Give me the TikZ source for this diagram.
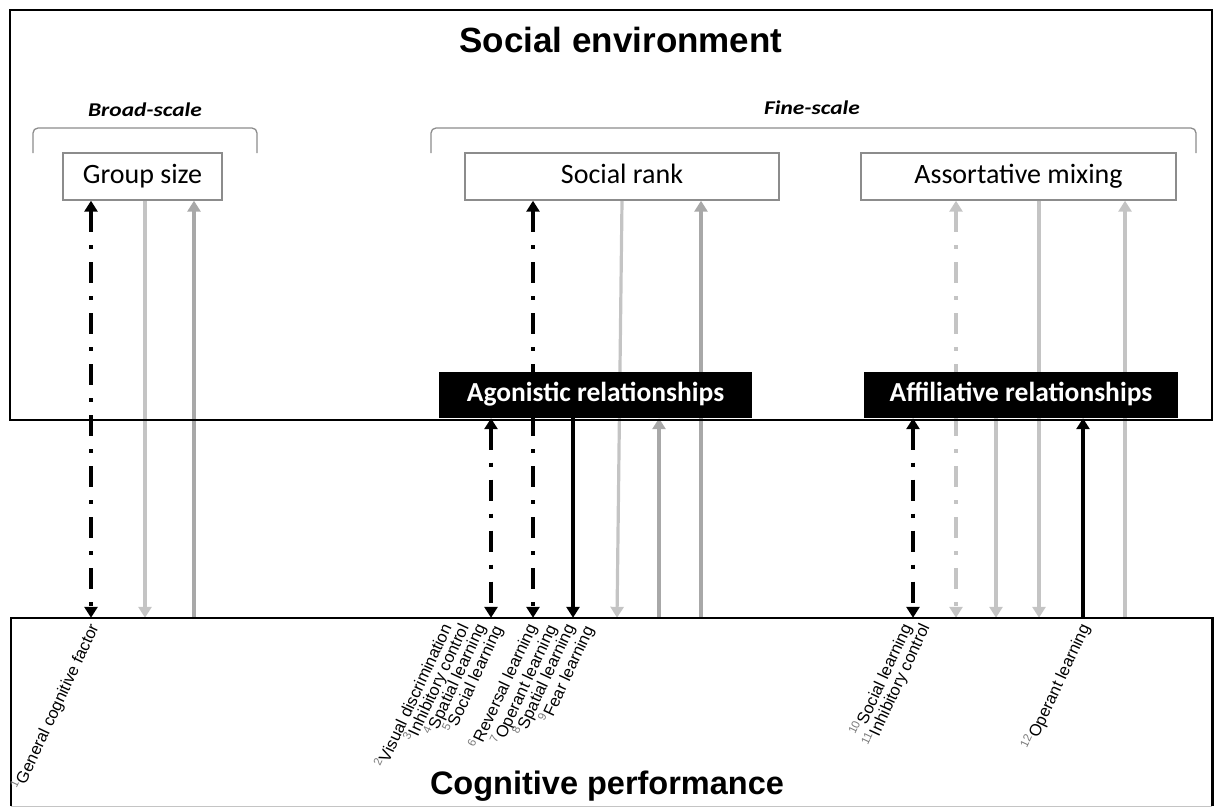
\documentclass[tikz,border=0pt]{standalone}
\usepackage{fontspec}
\setmainfont{Carlito}
\newfontfamily\arialfont{Liberation Sans}
\usetikzlibrary{arrows.meta,backgrounds}
\definecolor{lightln}{HTML}{C4C4C4}
\definecolor{midln}{HTML}{A8A8A8}
\definecolor{boxedge}{HTML}{8C8C8C}
\definecolor{supgray}{HTML}{7A7A7A}
\newcommand\citeno[1]{\textcolor{supgray}{\textsuperscript{#1}}}

\begin{document}
\begin{tikzpicture}[x=1pt,y=-1pt,
  frame/.style={draw=black, line width=2.6pt, inner sep=0pt},
  factorbox/.style={draw=boxedge, line width=1.4pt, fill=white, minimum height=47pt,
    inner sep=0pt, text height=18pt, text depth=5pt, font=\fontsize{28}{32}\selectfont},
  relbox/.style={fill=black, text=white, minimum height=46pt, inner sep=0pt,
    text height=18pt, text depth=5pt, font=\fontsize{27.5}{32}\selectfont\bfseries},
  heading/.style={font=\arialfont\bfseries\fontsize{35}{40}\selectfont},
  scalelabel/.style={xscale=1.2, font=\fontsize{19.5}{22}\selectfont\bfseries\itshape},
  bracket/.style={draw=boxedge, line width=1.3pt, rounded corners=5pt},
  >={Triangle[width=13pt,length=11pt]},
  link/.style={line width=3.2pt},
  dashdot/.style={dash pattern=on 21pt off 13pt on 4pt off 13pt},
  measure/.style={rotate=65, anchor=north east, inner sep=0pt,
    font=\arialfont\fontsize{16.5}{18}\selectfont},
]
\useasboundingbox (0,0) rectangle (1214,807);

% outer panels
\node[frame, minimum width=1202pt, minimum height=410pt] (env) at (611,215) {};
\node[inner sep=0pt, minimum width=1201pt, minimum height=188pt] (perf) at (611.5,712) {};
\draw[line width=2.6pt] (perf.south west) -- (perf.north west) -- (perf.north east) -- (perf.south east);
\draw[lightln, line width=1pt] (perf.south west) -- (perf.south east);

% headings
\node[heading] (envtitle) at (621,40) {Social environment};
\node[heading, font=\arialfont\bfseries\fontsize{32.5}{36}\selectfont] (perftitle) at (607,786) {Cognitive performance};

% scale brackets
\node[scalelabel] (broad) at (145,110) {Broad-scale};
\node[scalelabel] (fine) at (812,108) {Fine-scale};
\draw[bracket] (33,153) -- (33,128) -- (257,128) -- (257,153);
\draw[bracket] (431,153) -- (431,128) -- (1196,128) -- (1196,153);

% social factors
\node[factorbox, minimum width=159pt] (gs) at (142.5,176.5) {Group size};
\node[factorbox, minimum width=314pt] (sr) at (622,176.5) {Social rank};
\node[factorbox, minimum width=315pt] (am) at (1018.5,176.5) {Assortative mixing};

% relationship types
\node[relbox, minimum width=313pt] (ag) at (595.5,395) {Agonistic relationships};
\node[relbox, minimum width=314pt] (af) at (1021,395) {Affiliative relationships};

% x positions of the links
\coordinate (a1) at (91,0);
\coordinate (a2) at (145,0);
\coordinate (a3) at (194,0);
\coordinate (a4) at (533,0);
\coordinate (a5) at (491,0);
\coordinate (a6) at (573,0);
\coordinate (a7t) at (622,0);
\coordinate (a7b) at (617,0);
\coordinate (a8) at (659,0);
\coordinate (a9) at (701,0);
\coordinate (a10) at (913,0);
\coordinate (a11) at (956,0);
\coordinate (a12) at (996,0);
\coordinate (a13) at (1039,0);
\coordinate (a14) at (1083,0);
\coordinate (a15) at (1125,0);

\begin{pgfonlayer}{background}
  % group size
  \draw[link, dashdot, <->] (a1 |- gs.south) -- (a1 |- perf.north);
  \draw[link, lightln, ->] (a2 |- gs.south) -- (a2 |- perf.north);
  \draw[link, midln, ->] (a3 |- perf.north) -- (a3 |- gs.south);
  % social rank and agonistic relationships
  \draw[link, dashdot, <->] (a4 |- sr.south) -- (a4 |- perf.north);
  \draw[link, dashdot, <->] (a5 |- ag.south) -- (a5 |- perf.north);
  \draw[link, ->] (a6 |- ag.south) -- (a6 |- perf.north);
  \draw[link, lightln, ->] (a7t |- sr.south) -- (a7b |- perf.north);
  \draw[link, midln, ->] (a8 |- perf.north) -- (a8 |- ag.south);
  \draw[link, midln, ->] (a9 |- perf.north) -- (a9 |- sr.south);
  % assortative mixing and affiliative relationships
  \draw[link, dashdot, <->] (a10 |- af.south) -- (a10 |- perf.north);
  \draw[link, lightln, dashdot, <->] (a11 |- am.south) -- (a11 |- perf.north);
  \draw[link, lightln, ->] (a12 |- af.south) -- (a12 |- perf.north);
  \draw[link, lightln, ->] (a13 |- am.south) -- (a13 |- perf.north);
  \draw[link, ->] (a14 |- perf.north) -- (a14 |- af.south);
  \draw[link, lightln, ->] (a15 |- perf.north) -- (a15 |- am.south);
\end{pgfonlayer}

% cognitive measures
\node[measure] (l1) at (86,621) {\citeno{1}General cognitive factor};
\node[measure] (l2) at (439,621) {\citeno{2}Visual discrimination};
\node[measure] (l3) at (456,621) {\citeno{3}Inhibitory control};
\node[measure] (l4) at (473,621) {\citeno{4}Spatial learning};
\node[measure] (l5) at (490,623) {\citeno{5}Social learning};
\node[measure] (l6) at (524,621) {\citeno{6}Reversal learning};
\node[measure] (l7) at (544,622) {\citeno{7}Operant learning};
\node[measure] (l8) at (562,621) {\citeno{8}Spatial learning};
\node[measure] (l9) at (581,623) {\citeno{9}Fear learning};
\node[measure] (l10) at (899,621) {\citeno{10}Social learning};
\node[measure] (l11) at (917,621) {\citeno{11}Inhibitory control};
\node[measure] (l12) at (1077,621) {\citeno{12}Operant learning};
\end{tikzpicture}
\end{document}
